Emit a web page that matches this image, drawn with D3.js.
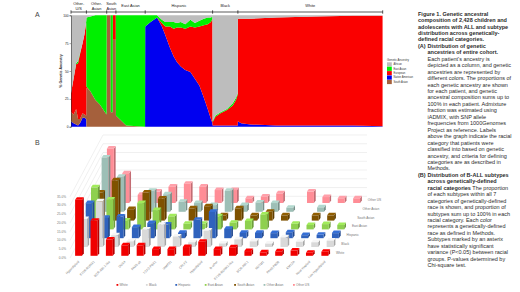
<!DOCTYPE html>
<html>
<head>
<meta charset="utf-8">
<script src="https://cdn.jsdelivr.net/npm/d3@7/dist/d3.min.js"></script>
<style>
html, body { margin: 0; padding: 0; background: #fff; }
svg { display: block; }
text { font-family: "Liberation Sans", Arial, sans-serif; }
</style>
</head>
<body>
<svg id="chart" width="520" height="292"></svg>
<script>
// Panel A: patient rank along the cohort, ancestry shares in % at each rank
var rank = [0,20,40,55,70,90,105,119, 120,150,190,225,265,277, 278,309,310,325,326,349, 350,430,577,
  578,620,670,708,735,770,800,825,855,890,930,965,1000,1035,1065,1090,1102,
  1103,1125,1165,1215,1260,1285,1299, 1300,1325,1400,1600,1900,2200,2427]
var nativeAm = [5,3,2,1,3,8,8,7, 0,0,0,0,0,0, 0,0,0,0,0,0, 0,0,0,
  90,94,98,90,82,71,63,58,54,51,49,43,37,26,16,7,3,
  1,1,1,1,1,1,1, 5,3,2,1,1,1,0.5]
var southAs = [8,8,14,6,4,4,3,3, 35,32,24,20,13,11, 100,100,13,13,78,78, 10,1,0,
  0,0,0,0,0,0,0,0,0,0,0,0,0,0,0,0,0,
  0,0,0,0,0,0,0, 0,0,0,0,0,0,0]
var european = [17,32,40,50,58,63,72,84, 1,0,0,0,0,0, 0,0,0,0,22,22, 0,0,0,
  0,0,0,3,8,19,25,31,35,37,41,46,53,65,76,87,94,
  3,8,11,14,18,23,28, 92,94,95,97,98,98.5,99]
var eastAs = [0,0,1,2,1,0,0,1, 62,67,76,80,87,89, 0,0,87,87,0,0, 90,99,100,
  10,6,2,3,4,4,6,4,5,4,6,4,5,6,6,4,2,
  1,1,1,1,2,2,1, 0,0,0,0,0,0,0]
var african = [70,57,43,41,34,25,17,5, 2,1,0,0,0,0, 0,0,0,0,0,0, 0,0,0,
  0,0,0,4,6,6,6,7,6,8,4,7,5,3,2,2,1,
  95,90,87,84,79,74,70, 3,3,3,2,1,0.5,0.5]
var ancestryNames = ["African","East Asian","European","Native American","South Asian"]
var ancestryColors = {"African":"#bdbdbd","East Asian":"#00f000","European":"#fa0000","Native American":"#0000f0","South Asian":"#a5603c"}
var groupNames = [["Other-","U/S"],["Other-","Asian"],["South","Asian"],["East Asian"],["Hispanic"],["Black"],["White"]]
var groupEnds = [0,120,278,350,578,1103,1300,2428]
var pctTicks = [0,25,50,75,100]

// Panel B: % of each subtype per genetically defined race
var subtypes = ["Hyperdiploid","ETV6-RUNX1","BCR-ABL1-like","DUX4","PAX5 alt","TCF3-PBX1","iAMP21","CRLF2","Hypodiploid",
  "B-other","ETV6-RUNX1-like","BCR-ABL1","NUTM1","PAX5 P80R","KMT2A","Near Haploid","Low Hypodiploid"]
var races = ["White","Black","Hispanic","East Asian","South Asian","Other Asian","Other US"]
var raceColors = ["#f00000","#d9d9d9","#2f62bd","#8ed04f","#7f5200","#9dbfb6","#ff8d96"]
var white = [32,20,9.3,6,6,3.8,3.8,5,8,3.8,4.8,2.7,2,2.5,3,1.7,2.3]
var black = [16,26,6.7,3.2,10,12.7,6,2.7,9.3,2,4.4,3.2,1.9,5.5,3,2.7,3.6]
var hispanic = [20,11.6,12.4,6.3,8.6,7.8,3,10.5,15,5.3,3,3,2.9,3.4,1.7,1.9,2.9]
var eastAsian = [24,17,5,15,11,7.4,3.2,3.2,7.4,3.8,4.8,8.4,0,3.2,2.5,3,2.5]
var southAsian = [16,23,6.5,16,12.6,0,7,8.2,3,7,3,5,3,0,3,3,0]
var otherAsian = [31,20,0,12,10,5.7,5,3.8,12,3.8,5.3,5,2.3,0,2.5,0,0]
var otherUS = [31,17,4.6,6.5,9.3,11,9.3,7.4,7.4,2.7,3.6,5.5,0,6.5,3.4,2.7,2.7]
var raceValues = [white,black,hispanic,eastAsian,southAsian,otherAsian,otherUS]
var axisTicks = [0,5,10,15,20,25,30,35]

// Caption lines: [text, bold, has the hanging label]
var caption = [
  ["Figure 1. Genetic ancestral",1,0],["composition of 2,428 children and",1,0],["adolescents with ALL and subtype",1,0],
  ["distribution across genetically-",1,0],["defined racial categories.",1,0],["Distribution of genetic",1,"(A)"],
  ["ancestries of entire cohort.",1,2],["Each patient's ancestry is",0,2],["depicted as a column, and genetic",0,2],
  ["ancestries are represented by",0,2],["different colors. The proportions of",0,2],["each genetic ancestry are shown",0,2],
  ["for each patient, and genetic",0,2],["ancestral composition sums up to",0,2],["100% in each patient. Admixture",0,2],
  ["fraction was estimated using",0,2],["iADMIX, with SNP allele",0,2],["frequencies from 1000Genomes",0,2],
  ["Project as reference. Labels",0,2],["above the graph indicate the racial",0,2],["category that patients were",0,2],
  ["classified into based on genetic",0,2],["ancestry, and criteria for defining",0,2],["categories are as described in",0,2],
  ["Methods.",0,2],["Distribution of B-ALL subtypes",1,"(B)"],["across genetically-defined",1,2],
  ["racial categories",1,2],["of each subtypes within all 7",0,2],["categories of genetically-defined",0,2],
  ["race is shown, and proportion of",0,2],["subtypes sum up to 100% in each",0,2],["racial category. Each color",0,2],
  ["represents a genetically-defined",0,2],["race as defined in Methods.",0,2],["Subtypes marked by an asterix",0,2],
  ["have statistically significant",0,2],["variance (P<0.05) between racial",0,2],["groups. P-values determined by",0,2],
  ["Chi-square test.",0,2]
]

var svg = d3.select("#chart")

// ---- panel A
var scX = d3.scaleLinear().domain([0,2428]).range([71,382.7])
var scY = d3.scaleLinear().domain([0,100]).range([126.7,15.3])

var rows = rank.map(function(r,i) {
  return {"rank":r,"Native American":nativeAm[i],"South Asian":southAs[i],"European":european[i],"East Asian":eastAs[i],"African":african[i]}
})
var stackOrder = ["Native American","South Asian","European","East Asian","African"]
var series = d3.stack().keys(stackOrder)(rows)
var areaMaker = d3.area()
  .x(d => scX(d.data.rank))
  .y0(d => scY(d[0]))
  .y1(d => scY(d[1]))

svg.append("g").attr("id","ancestry")
  .selectAll("path").data(series).enter().append("path")
  .attr("fill", d => ancestryColors[d.key])
  .attr("d", areaMaker)

// category brackets above the graph
var brackets = svg.append("g").attr("stroke","#111").attr("stroke-width",0.7)
brackets.append("line").attr("x1",scX(0)).attr("x2",scX(2428)).attr("y1",12).attr("y2",12)
brackets.selectAll(".tk").data(groupEnds).enter().append("line")
  .attr("x1", d => scX(d)).attr("x2", d => scX(d)).attr("y1",10.3).attr("y2",13.7)

groupNames.forEach(function(lines,i) {
  var cx = scX((groupEnds[i]+groupEnds[i+1])/2)
  lines.forEach(function(t,j) {
    svg.append("text").attr("x",cx).attr("y",(lines.length==1 ? 7 : 4.5+j*5.2))
      .attr("text-anchor","middle").attr("font-size",3.9).attr("fill","#222").text(t)
  })
})

// y axis for panel A
var axA = d3.axisLeft(scY).tickValues(pctTicks).tickSize(1.5).tickPadding(0.8)
var gA = svg.append("g").attr("transform","translate(71,0)").call(axA)
gA.select(".domain").attr("stroke","#222").attr("stroke-width",0.5)
gA.selectAll("line").attr("stroke","#222").attr("stroke-width",0.4)
gA.selectAll("text").attr("font-size",3.3).attr("fill","#222").style("font-family","Liberation Sans")
svg.append("text").attr("transform","translate(61.5,71) rotate(-90)").attr("text-anchor","middle")
  .attr("font-size",3.6).attr("font-weight","bold").attr("fill","#222").text("% Genetic Ancestry")

// legend for panel A
svg.append("text").attr("x",387).attr("y",60.5).attr("font-size",2.9).attr("fill","#333").text("Genetic Ancestry")
ancestryNames.forEach(function(n,i) {
  var y = 62.3 + i*4.4
  svg.append("rect").attr("x",387).attr("y",y).attr("width",4.8).attr("height",4.2).attr("fill",ancestryColors[n])
  svg.append("text").attr("x",393.5).attr("y",y+2.9).attr("font-size",2.7).attr("fill","#333").text(n)
})

svg.append("text").attr("x",35).attr("y",17).attr("font-size",7).attr("fill","#444").text("A")
svg.append("text").attr("x",35).attr("y",145).attr("font-size",7).attr("fill","#444").text("B")

// ---- panel B, oblique 3D columns
var scBand = d3.scaleBand().domain(subtypes).range([70.8,332.6]).paddingInner(0.55).paddingOuter(0.28)
var scDepthX = d3.scaleLinear().domain([0,6]).range([0,31.8])
var scDepthY = d3.scaleLinear().domain([0,6]).range([255.8,203])
var scH = d3.scaleLinear().domain([0,35]).range([0,61.3])
var sideX = 1.8, sideY = 2.6

// walls
var wallFront = 70, wallBack = 103, wallRight = 367, floorY = 258, wallRise = 61.7
var walls = svg.append("g").attr("stroke","#e6e6e6").attr("stroke-width",0.6).attr("fill","none")
axisTicks.forEach(function(t) {
  var y = floorY - scH(t)
  walls.append("path").attr("d", d3.line()([[wallFront,y],[wallBack,y-wallRise],[wallRight,y-wallRise]]))
})

var bars = svg.append("g").attr("id","bars")
d3.range(races.length-1,-1,-1).forEach(function(r) {
  var c = d3.color(raceColors[r])
  var g = bars.append("g").attr("class","race")
  g.selectAll("g").data(raceValues[r].map((v,i) => ({v:v, s:subtypes[i]})).filter(d => d.v > 0))
    .enter().append("g").each(function(d) {
      var x0 = scBand(d.s) + scDepthX(r)
      var x1 = x0 + scBand.bandwidth()
      var y0 = scDepthY(r)
      var y1 = y0 - scH(d.v)
      var bar = d3.select(this)
      bar.append("polygon").attr("fill",c.darker(0.75))
        .attr("points",[[x1,y0],[x1+sideX,y0-sideY],[x1+sideX,y1-sideY],[x1,y1]].join(" "))
      bar.append("polygon").attr("fill",c.brighter(0.35))
        .attr("points",[[x0,y1],[x1,y1],[x1+sideX,y1-sideY],[x0+sideX,y1-sideY]].join(" "))
      bar.append("rect").attr("x",x0).attr("y",y1).attr("width",x1-x0).attr("height",y0-y1).attr("fill",c)
    })
})

// labels for panel B
var grey = "#777"
axisTicks.forEach(function(t) {
  svg.append("text").attr("x",66).attr("y",floorY-scH(t)+1).attr("text-anchor","end")
    .attr("font-size",3.2).attr("fill",grey).text(t.toFixed(1)+"%")
})
subtypes.forEach(function(s) {
  var x = scBand(s) + scBand.bandwidth()/2
  svg.append("text").attr("transform","translate("+(x+1)+",262) rotate(-45)").attr("text-anchor","end")
    .attr("font-size",3.2).attr("fill",grey).text(s)
})
races.forEach(function(n,r) {
  svg.append("text").attr("x",336+scDepthX(r)).attr("y",scDepthY(r)-2).attr("font-size",3.2).attr("fill",grey).text(n)
})
var legendX = d3.scalePoint().domain(races).range([116.5,293])
races.forEach(function(n,r) {
  svg.append("rect").attr("x",legendX(n)).attr("y",284).attr("width",1.8).attr("height",1.8).attr("fill",raceColors[r])
  svg.append("text").attr("x",legendX(n)+3).attr("y",286.2).attr("font-size",3.2).attr("fill",grey).text(n)
})

// ---- caption
var capY = d3.scaleLinear().domain([0,39]).range([15.6,267.2])
var cap = svg.append("g").attr("fill","#2b2b2b").attr("font-size",5.5)
caption.forEach(function(c,i) {
  var x = c[2] ? 427.5 : 418
  var t = cap.append("text").attr("x",x).attr("y",capY(i)).attr("font-weight",c[1] ? "bold" : "normal").text(c[0])
  if (typeof c[2] == "string") {
    cap.append("text").attr("x",418).attr("y",capY(i)).attr("font-weight","bold").text(c[2])
  }
  if (c[0] == "racial categories") {
    t.append("tspan").attr("font-weight","normal").text(" The proportion")
  }
})
</script>
</body>
</html>
